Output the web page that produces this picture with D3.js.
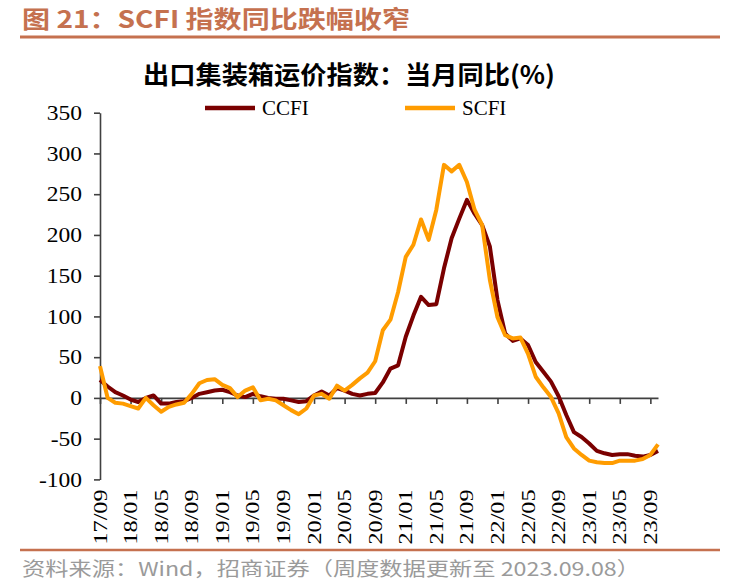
<!DOCTYPE html>
<html>
<head>
<meta charset="utf-8">
<script src="https://cdn.jsdelivr.net/npm/d3@7/dist/d3.min.js"></script>
<style>
  html, body { margin: 0; padding: 0; background: #fff; }
  svg { display: block; }
</style>
</head>
<body>
<svg id="chart" width="736" height="585"></svg>
<script>
// ---- Data ----
const months = [
  "17/09","17/10","17/11","17/12",
  "18/01","18/02","18/03","18/04","18/05","18/06","18/07","18/08","18/09","18/10","18/11","18/12",
  "19/01","19/02","19/03","19/04","19/05","19/06","19/07","19/08","19/09","19/10","19/11","19/12",
  "20/01","20/02","20/03","20/04","20/05","20/06","20/07","20/08","20/09","20/10","20/11","20/12",
  "21/01","21/02","21/03","21/04","21/05","21/06","21/07","21/08","21/09","21/10","21/11","21/12",
  "22/01","22/02","22/03","22/04","22/05","22/06","22/07","22/08","22/09","22/10","22/11","22/12",
  "23/01","23/02","23/03","23/04","23/05","23/06","23/07","23/08","23/09","23/10"
];
const ccfi = [
  22, 14, 7, 3, -2, -5, 0, 3, -7, -7, -5, -4, 0, 5, 7, 9, 10, 7, 3, 1,
  5, 2, 0, -1, -1, -3, -5, -4, 3, 8, 3, 12, 9, 5, 3, 5, 6, 19, 36, 40,
  75, 101, 124, 114, 115, 159, 196, 220, 243, 226, 212, 186, 120, 79, 70, 73, 65, 44, 32, 20,
  2, -21, -42, -48, -56, -65, -68, -70, -69, -69, -71, -72, -70, -65
];
const scfi = [
  39, 0, -6, -7, -10, -13, 0, -9, -17, -11, -8, -6, 5, 18, 22, 23, 16, 12, 1, 9,
  13, -3, -1, -3, -9, -15, -20, -13, 3, 5, -1, 15, 9, 16, 24, 31, 45, 83, 96, 130,
  173, 188, 219, 194, 231, 286, 278, 286, 265, 231, 212, 145, 99, 77, 73, 74, 54, 26, 13, 1,
  -19, -48, -62, -70, -77, -79, -80, -80, -77, -77, -77, -75, -70, -57
];
const xTickLabels = ["17/09","18/01","18/05","18/09","19/01","19/05","19/09","20/01","20/05","20/09",
                     "21/01","21/05","21/09","22/01","22/05","22/09","23/01","23/05","23/09"];
const yTicks = [-100, -50, 0, 50, 100, 150, 200, 250, 300, 350];
const seriesNames = ["CCFI", "SCFI"];
const seriesColors = ["#7a0000", "#ff9c00"];

// ---- Layout ----
const svg = d3.select("#chart");
const accent = "#c5714f";
const x = d3.scalePoint().domain(months).range([100, 658]);
const y = d3.scaleLinear().domain([-100, 350]).range([479.4, 112.7]);

// Header
svg.append("text")
  .attr("x", 22).attr("y", 28)
  .attr("font-family", "'Noto Sans CJK SC', sans-serif")
  .attr("font-weight", "bold").attr("font-size", 24)
  .attr("fill", accent)
  .attr("textLength", 388).attr("lengthAdjust", "spacingAndGlyphs")
  .text("图 21：SCFI 指数同比跌幅收窄");
svg.append("line").attr("x1", 20).attr("x2", 720).attr("y1", 37).attr("y2", 37)
  .attr("stroke", accent).attr("stroke-width", 3);

// Chart title
svg.append("text")
  .attr("x", 143).attr("y", 84)
  .attr("font-family", "'Noto Sans CJK SC', sans-serif")
  .attr("font-weight", "bold").attr("font-size", 25)
  .attr("fill", "#000")
  .attr("textLength", 412).attr("lengthAdjust", "spacingAndGlyphs")
  .text("出口集装箱运价指数：当月同比(%)");

// Legend
const legendX = [205, 405];
seriesNames.forEach((n, i) => {
  svg.append("line").attr("x1", legendX[i]).attr("x2", legendX[i] + 50)
    .attr("y1", 108).attr("y2", 108)
    .attr("stroke", seriesColors[i]).attr("stroke-width", 4.5);
  svg.append("text").attr("x", legendX[i] + 57).attr("y", 115)
    .attr("font-family", "'Liberation Serif', 'Times New Roman', serif")
    .attr("font-size", 21).attr("fill", "#000").text(n);
});

// Y axis
const yAxis = svg.append("g").attr("transform", "translate(100,0)")
  .call(d3.axisLeft(y).tickValues(yTicks).tickSize(6).tickSizeOuter(0).tickPadding(12)
        .tickFormat(d => String(d)));
yAxis.select(".domain").attr("stroke", "#404040").attr("stroke-width", 1.6);
yAxis.selectAll(".tick line").attr("stroke", "#404040").attr("stroke-width", 1.6);
yAxis.selectAll(".tick text")
  .attr("font-family", "'Liberation Serif', 'Times New Roman', serif")
  .attr("font-size", 21).attr("fill", "#000")
  .each(function() {
    const w = this.getComputedTextLength();
    d3.select(this).attr("textLength", w * 1.12).attr("lengthAdjust", "spacingAndGlyphs");
  });

// X axis (at zero)
const xAxis = svg.append("g").attr("transform", `translate(0,${y(0)})`)
  .call(d3.axisBottom(x).tickValues(xTickLabels).tickSize(6).tickSizeOuter(0).tickFormat(""));
xAxis.select(".domain").attr("stroke", "#404040").attr("stroke-width", 1.6);
xAxis.selectAll(".tick line").attr("stroke", "#404040").attr("stroke-width", 1.6);

// X tick labels at bottom
svg.append("g").selectAll("text").data(xTickLabels).join("text")
  .attr("transform", d => `translate(${x(d)},517) rotate(-90)`)
  .attr("text-anchor", "middle").attr("dominant-baseline", "central")
  .attr("font-family", "'Liberation Serif', 'Times New Roman', serif")
  .attr("font-size", 19).attr("fill", "#000")
  .attr("textLength", 55).attr("lengthAdjust", "spacingAndGlyphs")
  .text(d => d);

// Lines
const line = d3.line().x((d, i) => x(months[i])).y(d => y(d));
[ccfi, scfi].forEach((s, i) => {
  svg.append("path").datum(s)
    .attr("d", line).attr("fill", "none")
    .attr("stroke", seriesColors[i]).attr("stroke-width", 4)
    .attr("stroke-linejoin", "round");
});

// Footer
svg.append("line").attr("x1", 20).attr("x2", 720).attr("y1", 550).attr("y2", 550)
  .attr("stroke", accent).attr("stroke-width", 2.5);
svg.append("text")
  .attr("x", 22).attr("y", 576)
  .attr("font-family", "'Noto Sans CJK SC', sans-serif")
  .attr("font-size", 19).attr("fill", "#9a9a9a")
  .attr("textLength", 618).attr("lengthAdjust", "spacingAndGlyphs")
  .text("资料来源：Wind，招商证券（周度数据更新至 2023.09.08）");
</script>
</body>
</html>
